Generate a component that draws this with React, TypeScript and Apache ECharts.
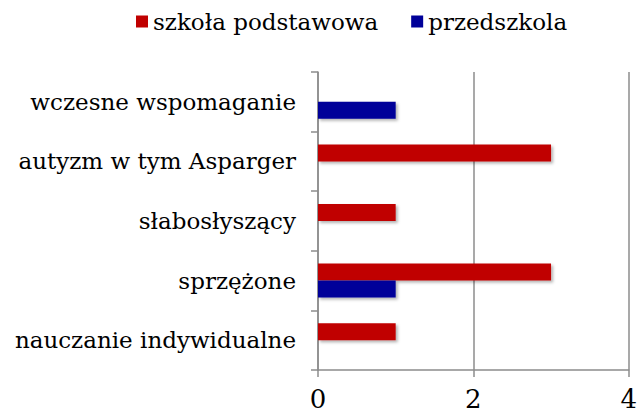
import React, { useEffect, useRef } from "react";
import * as echarts from "echarts";

const categories = [
  "nauczanie indywidualne",
  "sprzężone",
  "słabosłyszący",
  "autyzm w tym Asparger",
  "wczesne wspomaganie",
];
const seriesNames = ["szkoła podstawowa", "przedszkola"];
const szkolaPodstawowa = [1, 3, 1, 3, null];
const przedszkola = [null, 1, null, null, 1];
const xTicks = { min: 0, max: 4, interval: 2 };

const FONT = "DejaVu Serif";

export default function App() {
  const ref = useRef<HTMLDivElement>(null);
  useEffect(() => {
    if (!ref.current) return;
    const chart = echarts.init(ref.current, undefined, { renderer: "svg" });
    const shadow = {
      shadowBlur: 3,
      shadowOffsetX: 2,
      shadowOffsetY: 2,
      shadowColor: "rgba(0,0,0,0.3)",
    };
    chart.setOption({
      animation: false,
      backgroundColor: "#ffffff",
      textStyle: { fontFamily: FONT },
      legend: {
        top: 5,
        left: 131,
        icon: "rect",
        itemWidth: 12,
        itemHeight: 12,
        itemGap: 33,
        textStyle: { fontFamily: FONT, fontSize: 23, color: "#000" },
        data: seriesNames,
      },
      grid: { left: 318, right: 10, top: 72, bottom: 45, containLabel: false },
      xAxis: {
        type: "value",
        min: xTicks.min,
        max: xTicks.max,
        interval: xTicks.interval,
        axisLine: { show: true, lineStyle: { color: "#8c8c8c", width: 1.5 } },
        axisTick: { show: true, length: 7, lineStyle: { color: "#8c8c8c", width: 1.5 } },
        axisLabel: { fontFamily: FONT, fontSize: 26, color: "#000", margin: 16 },
        splitLine: { show: true, lineStyle: { color: "#8c8c8c", width: 1.5 } },
      },
      yAxis: {
        type: "category",
        data: categories,
        axisLine: { show: true, lineStyle: { color: "#8c8c8c", width: 1.5 } },
        axisTick: { show: true, length: 7, lineStyle: { color: "#8c8c8c", width: 1.5 } },
        axisLabel: { fontFamily: FONT, fontSize: 23, color: "#000", margin: 22 },
        splitLine: { show: false },
      },
      series: [
        {
          name: seriesNames[0],
          type: "bar",
          data: szkolaPodstawowa,
          barWidth: 17,
          barGap: "0%",
          itemStyle: { color: "#C00000", ...shadow },
        },
        {
          name: seriesNames[1],
          type: "bar",
          data: przedszkola,
          barWidth: 17,
          barGap: "0%",
          itemStyle: { color: "#000099", ...shadow },
        },
      ],
    });
    return () => chart.dispose();
  }, []);
  return <div ref={ref} style={{ width: 640, height: 415, position: "absolute", left: 0, top: 0 }} />;
}
